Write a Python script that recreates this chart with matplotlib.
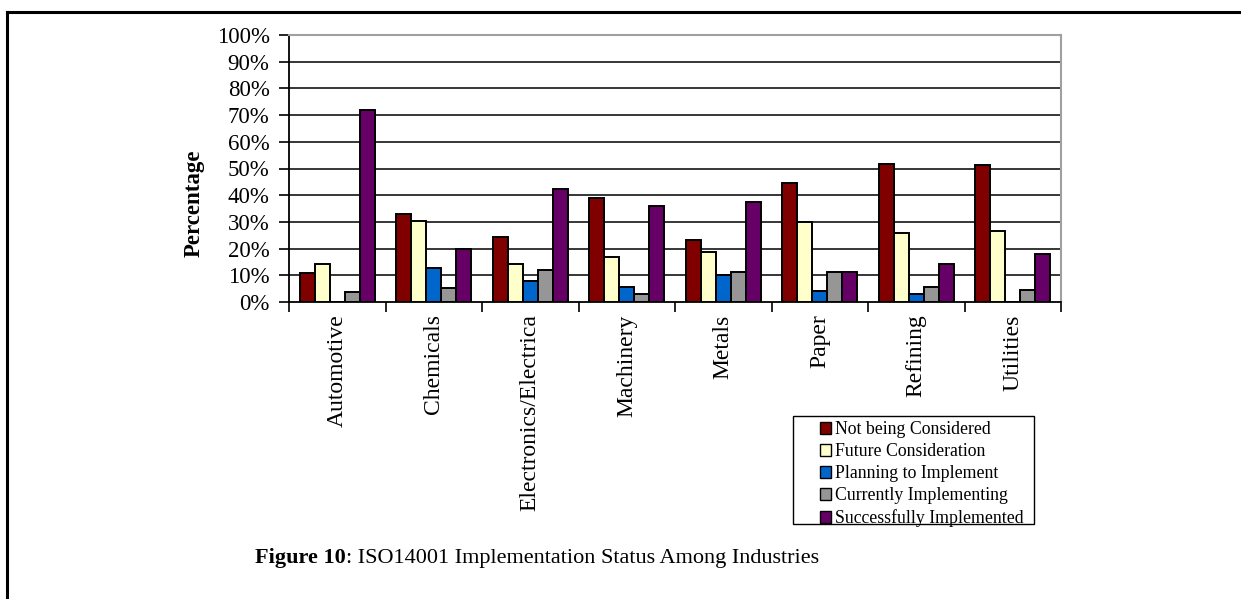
import matplotlib
matplotlib.use("Agg")
import matplotlib.pyplot as plt
import numpy as np
from matplotlib.ticker import FuncFormatter, FixedLocator
from matplotlib.lines import Line2D
from matplotlib.patches import Patch, Rectangle

plt.rcParams['font.family'] = ['Liberation Serif', 'DejaVu Serif']

industries = ["Automotive", "Chemicals", "Electronics/Electrica", "Machinery",
              "Metals", "Paper", "Refining", "Utilities"]
statuses = ["Not being Considered", "Future Consideration", "Planning to Implement",
            "Currently Implementing", "Successfully Implemented"]

not_considered = [10.8, 32.8, 24.3, 38.9, 23.2, 44.6, 51.8, 51.2]
future_consideration = [14.2, 30.4, 14.1, 16.9, 18.7, 30.0, 26.0, 26.5]
planning = [0.0, 12.6, 8.0, 5.7, 10.0, 4.0, 3.0, 0.0]
currently = [3.6, 5.2, 12.0, 3.0, 11.2, 11.2, 5.7, 4.6]
successfully = [72.0, 19.8, 42.3, 36.0, 37.6, 11.2, 14.2, 18.1]

series = [not_considered, future_consideration, planning, currently, successfully]
colors = ["#800000", "#FFFFCC", "#0066CC", "#969696", "#660066"]

W, H = 1241, 599
fig = plt.figure(figsize=(W / 100, H / 100), dpi=100)
ax = fig.add_axes([289 / W, 1 - 302 / H, (1061 - 289) / W, (302 - 35) / H])

n = len(industries)
bar_w = 0.155
centers = np.arange(n) + 0.5
for i, (vals, col) in enumerate(zip(series, colors)):
    offs = (i - 2) * bar_w
    ax.bar(centers + offs, vals, width=bar_w, color=col, edgecolor="black",
           linewidth=1.4, zorder=3)

ax.set_xlim(0, n)
ax.set_ylim(0, 100)

# y axis
ax.yaxis.set_major_locator(FixedLocator(np.arange(0, 101, 10)))
ax.yaxis.set_major_formatter(FuncFormatter(lambda v, p: f"{int(round(v))}%"))
ax.tick_params(axis="y", direction="out", length=7, width=1.2, pad=7,
               labelsize=16.5, color="black")
for y in range(10, 100, 10):
    ax.axhline(y, color="black", linewidth=1.1, zorder=1)

# x axis: ticks on category boundaries, labels at centers
ax.xaxis.set_major_locator(FixedLocator(np.arange(0, n + 1)))
ax.xaxis.set_major_formatter(FuncFormatter(lambda v, p: ""))
ax.tick_params(axis="x", which="major", direction="out", length=7, width=1.2)
ax.xaxis.set_minor_locator(FixedLocator(centers))
ax.set_xticklabels(industries, minor=True, rotation=90, fontsize=17, va="top")
ax.tick_params(axis="x", which="minor", length=0, pad=9)

for s in ["left", "bottom"]:
    ax.spines[s].set_color("black")
    ax.spines[s].set_linewidth(1.3)
for s in ["top", "right"]:
    ax.spines[s].set_color("#a0a0a0")
    ax.spines[s].set_linewidth(1.5)

ax.set_ylabel("Percentage", fontsize=16.5, fontweight="bold")
ax.yaxis.set_label_coords(-0.109, 0.37)

# legend with a separate box drawn around it
handles = [Patch(facecolor=c, edgecolor="black", linewidth=1.0) for c in colors]
leg = fig.legend(handles, statuses, loc="upper left",
                 bbox_to_anchor=(820 / W, 1 - 421 / H),
                 frameon=False, fontsize=12.8,
                 handlelength=0.62, handleheight=0.62, handletextpad=0.25,
                 labelspacing=0.29, borderpad=0, borderaxespad=0)
fig.add_artist(Rectangle((793 / W, 1 - 524 / H), (1034 - 793) / W, (524 - 416) / H,
                         transform=fig.transFigure, facecolor="none",
                         edgecolor="black", linewidth=1.0))

# page frame
fig.add_artist(Line2D([7 / W, 1.0], [1 - 12 / H, 1 - 12 / H], color="black",
                      linewidth=2.2, transform=fig.transFigure))
fig.add_artist(Line2D([7 / W, 7 / W], [1 - 12 / H, 0], color="black",
                      linewidth=2.2, transform=fig.transFigure))

# caption
cy = 1 - 558 / H
t1 = fig.text(255 / W, cy, "Figure 10", fontsize=16, fontweight="bold",
              ha="left", va="center")
renderer = fig.canvas.get_renderer()
bb = t1.get_window_extent(renderer=renderer)
fig.text(bb.x1 / W, cy, ": ISO14001 Implementation Status Among Industries",
         fontsize=16, ha="left", va="center")

fig.savefig("out.png", dpi=100)
